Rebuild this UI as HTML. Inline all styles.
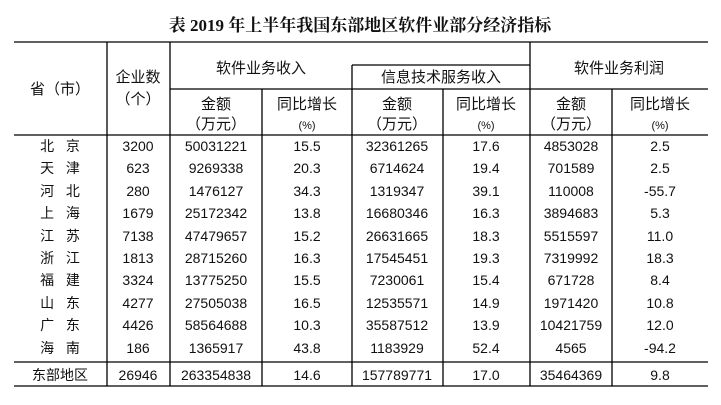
<!DOCTYPE html>
<html><head><meta charset="utf-8"><style>
body{margin:0;background:#fff;}
svg text{font-family:"Liberation Sans","Noto Sans CJK SC",sans-serif;font-size:14px;fill:#111;}
.h{font-size:15px;}
</style></head><body>
<svg width="721" height="400" xmlns="http://www.w3.org/2000/svg">
<text x="360" y="31" text-anchor="middle" style="font-family:'Liberation Serif','Noto Serif CJK SC',serif;font-size:17px;font-weight:bold">表 2019 年上半年我国东部地区软件业部分经济指标</text>
<g stroke="#000" stroke-width="1.3" fill="none">
<line x1="14" y1="42" x2="708" y2="42"/>
<line x1="14" y1="135" x2="708" y2="135"/>
<line x1="14" y1="362" x2="708" y2="362"/>
<line x1="14" y1="386" x2="708" y2="386"/>
<line x1="352" y1="65" x2="530" y2="65"/>
<line x1="170" y1="89" x2="708" y2="89"/>
<line x1="107" y1="42" x2="107" y2="386"/>
<line x1="170" y1="42" x2="170" y2="386"/>
<line x1="262" y1="89" x2="262" y2="386"/>
<line x1="352" y1="65" x2="352" y2="386"/>
<line x1="443" y1="89" x2="443" y2="386"/>
<line x1="530" y1="42" x2="530" y2="386"/>
<line x1="612" y1="89" x2="612" y2="386"/>
</g>
<g text-anchor="middle" class="h">
<text class="h" x="60" y="94">省（市）</text>
<text class="h" x="138" y="82">企业数</text>
<text class="h" x="138" y="104">（个）</text>
<text class="h" x="261" y="73">软件业务收入</text>
<text class="h" x="441" y="82">信息技术服务收入</text>
<text class="h" x="619" y="73">软件业务利润</text>
<text class="h" x="216" y="109">金额</text><text class="h" x="216" y="129">（万元）</text>
<text class="h" x="307" y="109">同比增长</text><text x="307" y="129" style="font-size:11px">(%)</text>
<text class="h" x="397" y="109">金额</text><text class="h" x="397" y="129">（万元）</text>
<text class="h" x="486" y="109">同比增长</text><text x="486" y="129" style="font-size:11px">(%)</text>
<text class="h" x="571" y="109">金额</text><text class="h" x="571" y="129">（万元）</text>
<text class="h" x="660" y="109">同比增长</text><text x="660" y="129" style="font-size:11px">(%)</text>
</g>
<g text-anchor="middle" id="rows">
<text x="60" y="151" xml:space="preserve">北   京</text><text x="138" y="151">3200</text><text x="216" y="151">50031221</text><text x="307" y="151">15.5</text><text x="397" y="151">32361265</text><text x="486" y="151">17.6</text><text x="571" y="151">4853028</text><text x="660" y="151">2.5</text>
<text x="60" y="173" xml:space="preserve">天   津</text><text x="138" y="173">623</text><text x="216" y="173">9269338</text><text x="307" y="173">20.3</text><text x="397" y="173">6714624</text><text x="486" y="173">19.4</text><text x="571" y="173">701589</text><text x="660" y="173">2.5</text>
<text x="60" y="196" xml:space="preserve">河   北</text><text x="138" y="196">280</text><text x="216" y="196">1476127</text><text x="307" y="196">34.3</text><text x="397" y="196">1319347</text><text x="486" y="196">39.1</text><text x="571" y="196">110008</text><text x="660" y="196">-55.7</text>
<text x="60" y="218" xml:space="preserve">上   海</text><text x="138" y="218">1679</text><text x="216" y="218">25172342</text><text x="307" y="218">13.8</text><text x="397" y="218">16680346</text><text x="486" y="218">16.3</text><text x="571" y="218">3894683</text><text x="660" y="218">5.3</text>
<text x="60" y="241" xml:space="preserve">江   苏</text><text x="138" y="241">7138</text><text x="216" y="241">47479657</text><text x="307" y="241">15.2</text><text x="397" y="241">26631665</text><text x="486" y="241">18.3</text><text x="571" y="241">5515597</text><text x="660" y="241">11.0</text>
<text x="60" y="263" xml:space="preserve">浙   江</text><text x="138" y="263">1813</text><text x="216" y="263">28715260</text><text x="307" y="263">16.3</text><text x="397" y="263">17545451</text><text x="486" y="263">19.3</text><text x="571" y="263">7319992</text><text x="660" y="263">18.3</text>
<text x="60" y="285" xml:space="preserve">福   建</text><text x="138" y="285">3324</text><text x="216" y="285">13775250</text><text x="307" y="285">15.5</text><text x="397" y="285">7230061</text><text x="486" y="285">15.4</text><text x="571" y="285">671728</text><text x="660" y="285">8.4</text>
<text x="60" y="308" xml:space="preserve">山   东</text><text x="138" y="308">4277</text><text x="216" y="308">27505038</text><text x="307" y="308">16.5</text><text x="397" y="308">12535571</text><text x="486" y="308">14.9</text><text x="571" y="308">1971420</text><text x="660" y="308">10.8</text>
<text x="60" y="330" xml:space="preserve">广   东</text><text x="138" y="330">4426</text><text x="216" y="330">58564688</text><text x="307" y="330">10.3</text><text x="397" y="330">35587512</text><text x="486" y="330">13.9</text><text x="571" y="330">10421759</text><text x="660" y="330">12.0</text>
<text x="60" y="353" xml:space="preserve">海   南</text><text x="138" y="353">186</text><text x="216" y="353">1365917</text><text x="307" y="353">43.8</text><text x="397" y="353">1183929</text><text x="486" y="353">52.4</text><text x="571" y="353">4565</text><text x="660" y="353">-94.2</text>
<text x="60" y="380">东部地区</text><text x="138" y="380">26946</text><text x="216" y="380">263354838</text><text x="307" y="380">14.6</text><text x="397" y="380">157789771</text><text x="486" y="380">17.0</text><text x="571" y="380">35464369</text><text x="660" y="380">9.8</text>
</g>
</svg>
</body></html>
